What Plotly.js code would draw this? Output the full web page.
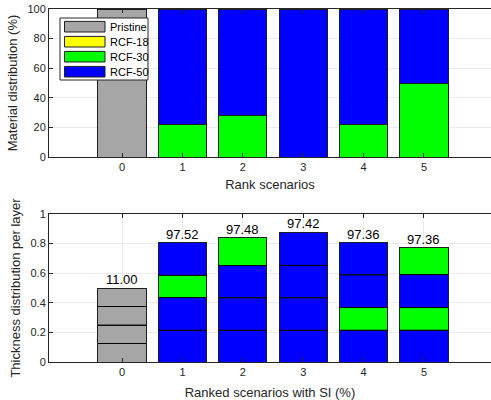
<!DOCTYPE html>
<html>
<head>
<meta charset="utf-8">
<script src="https://cdn.plot.ly/plotly-3.0.1.min.js"></script>
<style>
  html, body { margin: 0; padding: 0; background: #fff; overflow: hidden; }
  #chart { width: 491px; height: 400px; }
</style>
</head>
<body>
<div id="chart"></div>
<script>
// ---------- DATA ----------
const scenarios = [0, 1, 2, 3, 4, 5];
const materialNames = ['Pristine', 'RCF-18', 'RCF-30', 'RCF-50'];
const materialColors = ['#a6a6a6', '#ffff00', '#00ff00', '#0000ff'];

// Material distribution (%) per scenario (top panel)
const sharePristine = [100, 0, 0, 0, 0, 0];
const shareRCF18    = [0, 0, 0, 0, 0, 0];
const shareRCF30    = [0, 22, 28, 0, 22, 50];
const shareRCF50    = [0, 78, 72, 100, 78, 50];

// Thickness per layer (bottom panel), layer 1 = bottom
const layer1 = [0.125, 0.215, 0.215, 0.215, 0.215, 0.215];
const layer2 = [0.125, 0.220, 0.218, 0.218, 0.153, 0.153];
const layer3 = [0.125, 0.151, 0.218, 0.220, 0.220, 0.222];
const layer4 = [0.125, 0.220, 0.188, 0.223, 0.218, 0.182];

// Material of each layer per scenario
const layer1Mat = ['Pristine', 'RCF-50', 'RCF-50', 'RCF-50', 'RCF-50', 'RCF-50'];
const layer2Mat = ['Pristine', 'RCF-50', 'RCF-50', 'RCF-50', 'RCF-30', 'RCF-30'];
const layer3Mat = ['Pristine', 'RCF-30', 'RCF-50', 'RCF-50', 'RCF-50', 'RCF-50'];
const layer4Mat = ['Pristine', 'RCF-50', 'RCF-30', 'RCF-50', 'RCF-50', 'RCF-30'];

// SI labels above bars
const siLabels = ['11.00', '97.52', '97.48', '97.42', '97.36', '97.36'];

// ---------- STYLE ----------
const FONT = '"Liberation Sans", Arial, Helvetica, sans-serif';
const AX = '#262626';
const GRID = '#ebebeb';
const EDGE = '#1e1e1e';
const BAR_W = 0.8;

const W = 491, H = 400;
const M = { l: 49, r: 0, t: 9, b: 2 };
const plotH = H - M.t - M.b;
const yBottom = M.t + plotH;
const topDomain = [(yBottom - 157) / plotH, 1];
const botDomain = [(yBottom - 362) / plotH, (yBottom - 214) / plotH];

const colorOf = name => materialColors[materialNames.indexOf(name)];

const traces = [];
const shares = [sharePristine, shareRCF18, shareRCF30, shareRCF50];
materialNames.forEach((name, i) => {
  traces.push({
    type: 'bar', x: scenarios, y: shares[i], name: name,
    xaxis: 'x', yaxis: 'y', width: BAR_W,
    marker: { color: materialColors[i], line: { color: EDGE, width: 1 } },
    showlegend: false, hoverinfo: 'x+y+name'
  });
});

const layers = [layer1, layer2, layer3, layer4];
const layerMats = [layer1Mat, layer2Mat, layer3Mat, layer4Mat];
layers.forEach((vals, i) => {
  traces.push({
    type: 'bar', x: scenarios, y: vals, name: 'Layer ' + (i + 1),
    xaxis: 'x2', yaxis: 'y2', width: BAR_W,
    marker: { color: layerMats[i].map(colorOf), line: { color: EDGE, width: 1 } },
    showlegend: false, hoverinfo: 'x+y+name'
  });
});

// internal layer boundaries (cumulative heights), drawn as thin black lines
const bx = [], by = [];
scenarios.forEach((s, j) => {
  let cum = 0;
  for (let i = 0; i < layers.length - 1; i++) {
    cum += layers[i][j];
    bx.push(s - BAR_W / 2, s + BAR_W / 2, null);
    by.push(cum, cum, null);
  }
});
traces.push({
  type: 'scatter', mode: 'lines', x: bx, y: by, xaxis: 'x2', yaxis: 'y2',
  line: { color: '#000', width: 0.9 }, showlegend: false, hoverinfo: 'skip',
  connectgaps: false
});

const totals = scenarios.map((_, j) => layers.reduce((s, l) => s + l[j], 0));

const annotations = scenarios.map((s, j) => ({
  x: s, y: totals[j], xref: 'x2', yref: 'y2',
  text: siLabels[j], showarrow: false, yanchor: 'bottom',
  font: { family: FONT, size: 13, color: '#000' }, yshift: -1
}));

// custom legend (MATLAB-style wide swatches)
const px2x = px => (px - M.l) / (W - M.l - M.r);
const px2y = py => (yBottom - py) / plotH;
const shapes = [{
  type: 'rect', xref: 'paper', yref: 'paper',
  x0: px2x(60), x1: px2x(148), y0: px2y(80), y1: px2y(18),
  fillcolor: '#ffffff', line: { color: AX, width: 1 }, layer: 'above'
}];
materialNames.forEach((name, i) => {
  const cy = 26.7 + 15 * i;
  shapes.push({
    type: 'rect', xref: 'paper', yref: 'paper',
    x0: px2x(64.5), x1: px2x(105), y0: px2y(cy + 5.3), y1: px2y(cy - 5.3),
    fillcolor: materialColors[i], line: { color: EDGE, width: 1 }, layer: 'above'
  });
  annotations.push({
    xref: 'paper', yref: 'paper', x: px2x(107.5), y: px2y(cy),
    xanchor: 'left', yanchor: 'middle', text: name, showarrow: false,
    font: { family: FONT, size: 11, color: '#000' }
  });
});

const baseX = {
  showgrid: true, gridcolor: GRID, gridwidth: 1, zeroline: false,
  showline: true, linecolor: AX, linewidth: 1, mirror: 'ticks',
  ticks: 'inside', ticklen: 4, tickcolor: AX,
  tickvals: scenarios, ticktext: scenarios.map(String),
  range: [-1.21, 6.11], fixedrange: true,
  tickfont: { family: FONT, size: 11, color: AX }
};
const baseY = {
  showgrid: true, gridcolor: GRID, gridwidth: 1, zeroline: false,
  showline: true, linecolor: AX, linewidth: 1, mirror: false,
  ticks: 'inside', ticklen: 4, tickcolor: AX, fixedrange: true,
  tickfont: { family: FONT, size: 11, color: AX }
};

const layout = {
  width: W, height: H, margin: M,
  paper_bgcolor: '#fff', plot_bgcolor: '#fff',
  barmode: 'stack', bargap: 0.2,
  font: { family: FONT, color: AX },
  xaxis: Object.assign({}, baseX, {
    anchor: 'y', domain: [0, 1],
    title: { text: 'Rank scenarios', font: { family: FONT, size: 13, color: AX }, standoff: 7 }
  }),
  yaxis: Object.assign({}, baseY, {
    anchor: 'x', domain: topDomain, range: [0, 100],
    tickvals: [0, 20, 40, 60, 80, 100],
    title: { text: 'Material distribution (%)', font: { family: FONT, size: 13, color: AX }, standoff: 6 }
  }),
  xaxis2: Object.assign({}, baseX, {
    anchor: 'y2', domain: [0, 1],
    title: { text: 'Ranked scenarios with SI (%)', font: { family: FONT, size: 13, color: AX }, standoff: 11 }
  }),
  yaxis2: Object.assign({}, baseY, {
    anchor: 'x2', domain: botDomain, range: [0, 1],
    tickvals: [0, 0.2, 0.4, 0.6, 0.8, 1], ticktext: ['0', '0.2', '0.4', '0.6', '0.8', '1'],
    title: { text: 'Thickness distribution per layer', font: { family: FONT, size: 13, color: AX }, standoff: 6 }
  }),
  annotations: annotations,
  shapes: shapes
};

Plotly.newPlot('chart', traces, layout, { displayModeBar: false, staticPlot: true });
</script>
</body>
</html>
